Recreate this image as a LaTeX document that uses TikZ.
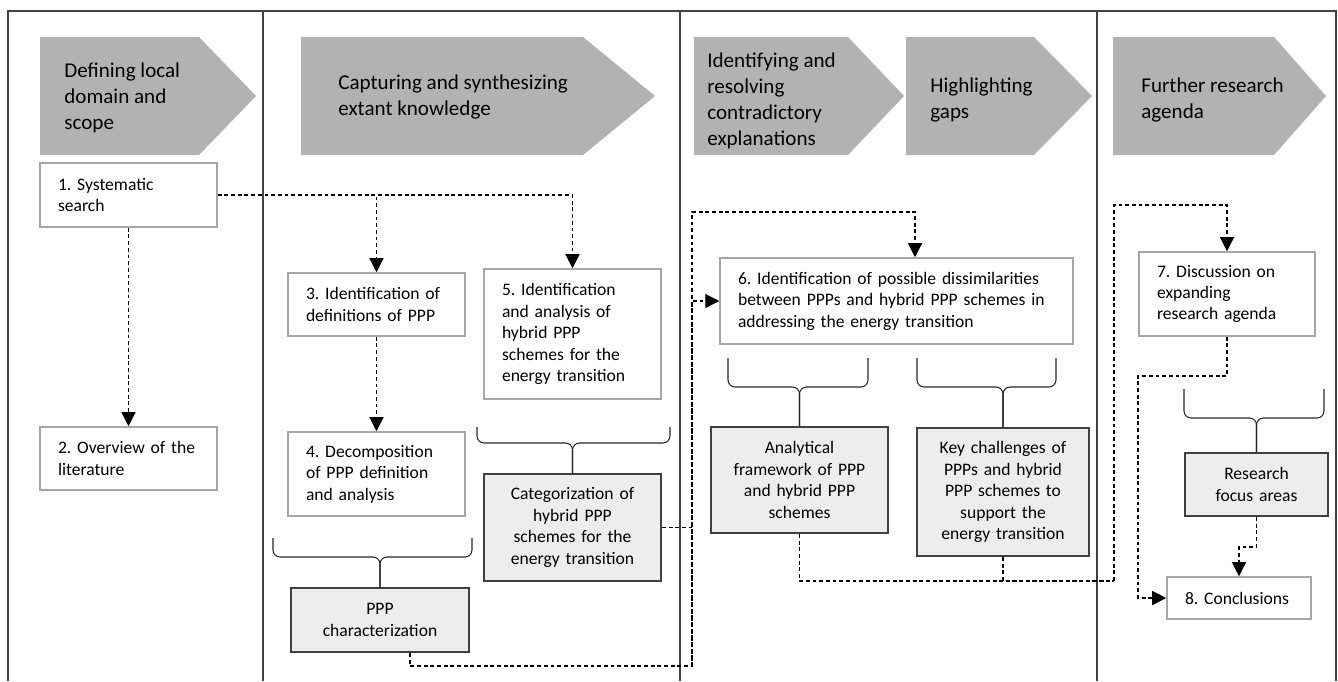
\documentclass[tikz,border=0pt]{standalone}
\usepackage{fontspec}
\setmainfont{Carlito}
\usetikzlibrary{arrows.meta,calc,positioning}
\newcommand\boxfont{\fontsize{10}{12.2}\selectfont\frenchspacing\hyphenpenalty=10000\relax}

\begin{document}
\begin{tikzpicture}[x=0.02cm,y=-0.02cm,
  taskbox/.style={draw=black!35,line width=0.9pt,fill=white,align=left,inner xsep=0.36cm,inner ysep=0pt,font=\boxfont},
  resultbox/.style={draw=black!75,line width=1.1pt,fill=black!7,align=center,inner xsep=0.1cm,inner ysep=0pt,font=\boxfont},
  stagetext/.style={anchor=west,align=left,inner sep=0pt,font=\fontsize{12}{14.7}\selectfont},
  stagefill/.style={fill=black!30},
  lane/.style={draw=black!75,line width=0.9pt},
  dashline/.style={draw=black,line width=0.7pt,dash pattern=on 2.2pt off 1.6pt},
  flow/.style={dashline,-{Triangle[length=0.28cm,width=0.28cm]}},
  bracket/.style={draw=black!85,line width=0.6pt,rounded corners=4pt}]
  \useasboundingbox (0,0) rectangle (1338,681);

  % lanes
  \draw[lane] (8,681) -- (8,11) -- (1336,11) -- (1336,681);
  \draw[lane] (263,11) -- (263,681) (680,11) -- (680,681) (1097,11) -- (1097,681);

  % stages
  \fill[stagefill] (40,37) -- (199,37) -- (256,96) -- (199,155) -- (40,155) -- cycle;
  \fill[stagefill] (301,37) -- (583,37) -- (655,96) -- (583,155) -- (301,155) -- cycle;
  \fill[stagefill] (694,37) -- (848,37) -- (904,96) -- (848,155) -- (694,155) -- cycle;
  \fill[stagefill] (906,37) -- (1034,37) -- (1092,96) -- (1034,155) -- (906,155) -- cycle;
  \fill[stagefill] (1113,37) -- (1274,37) -- (1326,96) -- (1274,155) -- (1113,155) -- cycle;
  \node[stagetext] (s1) at (64,98)   {Defining local\\domain and\\scope};
  \node[stagetext] (s2) at (338,97)  {Capturing and synthesizing\\extant knowledge};
  \node[stagetext] (s3) at (707,101) {Identifying and\\resolving\\contradictory\\explanations};
  \node[stagetext] (s4) at (930,100) {Highlighting\\gaps};
  \node[stagetext] (s5) at (1141,100) {Further research\\agenda};

  % steps
  \node[taskbox,text width=2.82cm,minimum height=1.28cm] (b1) at (128.5,195) {1. Systematic\\search};
  \node[taskbox,text width=2.82cm,minimum height=1.26cm] (b2) at (128.5,458.5) {2. Overview of the\\literature};
  \node[taskbox,text width=2.82cm,minimum height=1.26cm] (b3) at (376.5,304.5) {3. Identification of\\definitions of PPP};
  \node[taskbox,text width=2.82cm,minimum height=1.68cm] (b4) at (376.5,474) {4. Decomposition\\of PPP definition\\and analysis};
  \node[taskbox,text width=2.82cm,minimum height=2.6cm] (b5) at (572.5,334) {5. Identification\\and analysis of\\hybrid PPP\\schemes for the\\energy transition};
  \node[taskbox,text width=6.34cm,minimum height=1.72cm] (b6) at (896.5,301) {6. Identification of possible dissimilarities\\between PPPs and hybrid PPP schemes in\\addressing the energy transition};
  \node[taskbox,text width=2.8cm,minimum height=1.68cm] (b7) at (1227,294) {7. Discussion on\\expanding\\research agenda};
  \node[taskbox,text width=2.16cm,minimum height=0.84cm] (b8) at (1239,598) {8. Conclusions};

  % outcomes
  \node[resultbox,text width=3.36cm,minimum height=1.28cm] (char) at (380,620) {PPP\\characterization};
  \node[resultbox,text width=3.34cm,minimum height=2.14cm] (cat) at (572.5,527.5) {Categorization of\\hybrid PPP\\schemes for the\\energy transition};
  \node[resultbox,text width=3.34cm,minimum height=2.12cm] (frame) at (799.5,480) {Analytical\\framework of PPP\\and hybrid PPP\\schemes};
  \node[resultbox,text width=3.24cm,minimum height=2.56cm] (chal) at (1003,492) {Key challenges of\\PPPs and hybrid\\PPP schemes to\\support the\\energy transition};
  \node[resultbox,text width=2.66cm,minimum height=1.26cm] (focus) at (1256.5,484.5) {Research\\focus areas};

  % braces
  \draw[bracket] (char.north) |- (273,557) -- (273,538);
  \draw[bracket] (char.north) |- (472,557) -- (472,538);
  \draw[bracket] (cat.north) |- (477,443) -- (477,427);
  \draw[bracket] (cat.north) |- (670,443) -- (670,427);
  \draw[bracket] (frame.north) |- (728,387) -- (728,358);
  \draw[bracket] (frame.north) |- (868,387) -- (868,358);
  \draw[bracket] (chal.north) |- (917,387) -- (917,358);
  \draw[bracket] (chal.north) |- (1056,387) -- (1056,358);
  \draw[bracket] (focus.north) |- (1184,418) -- (1184,389);
  \draw[bracket] (focus.north) |- (1324,418) -- (1324,389);

  % flows
  \coordinate (bus1) at (692,666);
  \coordinate (top6) at (692,212);
  \coordinate (bus2) at (1114,581);
  \coordinate (top7) at (1114,205);
  \draw[flow] (b1.south) -- (b2.north);
  \draw[flow] (b1.east) -| (b3.north);
  \draw[flow] (b1.east) -| (b5.north);
  \draw[flow] (b3.south) -- (b4.north);
  \draw[flow] ($(char.south)+(30,0)$) |- (bus1) |- (b6.west);
  \draw[dashline] (cat.east) -- (cat.east -| bus1);
  \draw[flow] (bus1) -- (top6) -| ($(b6.north)+(18.5,0)$);
  \draw[dashline] (frame.south) |- (bus2);
  \draw[dashline] (chal.south) |- (bus2);
  \draw[flow] (bus2) -- (top7) -| (b7.north);
  \draw[flow] (b7.south) |- (1138,376) |- (b8.west);
  \draw[flow] (focus.south) -- ++(0,30) -| (b8.north);
\end{tikzpicture}
\end{document}
